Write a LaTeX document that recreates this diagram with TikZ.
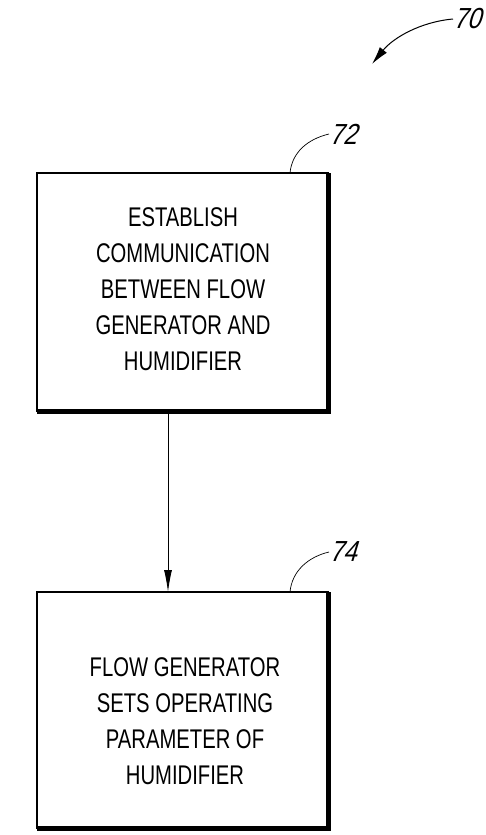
\documentclass[tikz,border=0pt]{standalone}
\usepackage{fontspec}
\setmainfont{Liberation Sans}
\newfontfamily\boxfont[FakeStretch=0.75]{Liberation Sans}
\newfontfamily\reffont[FakeStretch=0.85,FakeSlant=0.3]{Liberation Sans}
\usetikzlibrary{arrows.meta}
\begin{document}
\begin{tikzpicture}[x=1pt,y=-1pt,
  box/.style={draw=black, line width=1.2pt, inner sep=0pt, outer sep=0pt},
  shade/.style={draw=black, line width=5.3pt},
  boxtext/.style={align=center, inner sep=0pt, font=\boxfont\fontsize{27}{36}\selectfont},
  reflabel/.style={inner sep=0pt, font=\reffont\fontsize{29}{29}\selectfont},
  leader/.style={draw=black, line width=0.7pt},
  flow/.style={draw=black, line width=0.9pt, -{Latex[length=22pt,width=8pt]}},
  bigarrow/.style={draw=black, line width=1pt, -{Latex[length=18pt,width=9pt]}}]
\useasboundingbox (0,0) rectangle (486,835);

% box 72
\node[box, minimum width=291.3pt, minimum height=238.2pt] (b1) at (182.65,292.1) {};
\draw[shade] (b1.north east) -- (b1.south east) -- (b1.south west);
\node[boxtext] (t1) at (183,289.5) {ESTABLISH\\COMMUNICATION\\BETWEEN FLOW\\GENERATOR AND\\HUMIDIFIER};

% box 74
\node[box, minimum width=291.3pt, minimum height=236.6pt] (b2) at (182.65,710.3) {};
\draw[shade] (b2.north east) -- (b2.south east) -- (b2.south west);
\node[boxtext] (t2) at (185,721) {FLOW GENERATOR\\SETS OPERATING\\PARAMETER OF\\HUMIDIFIER};

% connector
\coordinate (ax) at (168,0);
\draw[flow] (ax |- b1.south) -- (ax |- b2.north);

% reference 70
\node[reflabel, anchor=west] (l70) at (453,19) {70};
\coordinate (p70) at (372,64);
\draw[bigarrow] (l70.west) .. controls (420,22) and (393,38) .. (p70);

% reference 72
\node[reflabel, anchor=west] (l72) at (329,134) {72};
\coordinate (c72) at (290,173);
\draw[leader] (l72.west) .. controls (308,139) and (292,152) .. (c72);

% reference 74
\node[reflabel, anchor=west] (l74) at (329,552) {74};
\coordinate (c74) at (290,592);
\draw[leader] (l74.west) .. controls (308,557) and (292,571) .. (c74);
\end{tikzpicture}
\end{document}
